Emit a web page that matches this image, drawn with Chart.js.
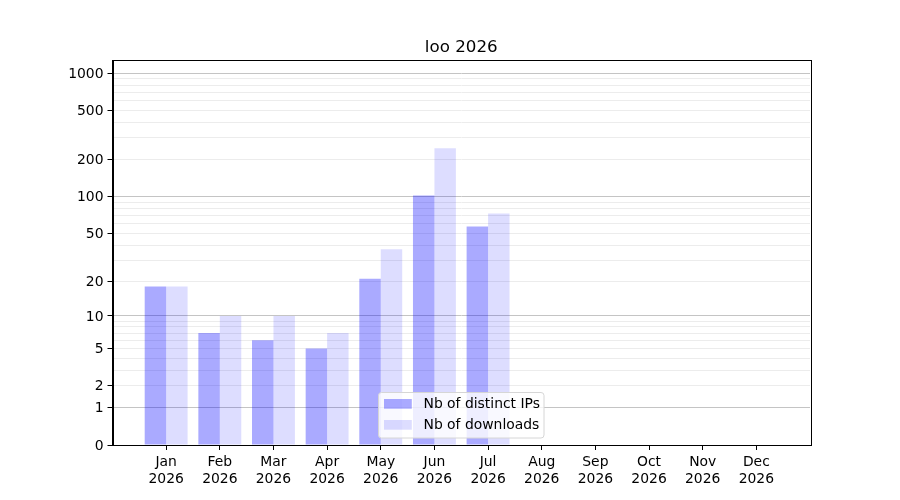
<!DOCTYPE html>
<html>
<head>
<meta charset="utf-8">
<script src="https://cdn.jsdelivr.net/npm/chart.js@4.4.1/dist/chart.umd.min.js"></script>
<style>
  html, body { margin: 0; padding: 0; background: #fff; }
  #wrap { width: 900px; height: 500px; position: relative; }
</style>
</head>
<body>
<div id="wrap"><canvas id="chart"></canvas></div>
<script>
// ---- data ----
const months = ['Jan', 'Feb', 'Mar', 'Apr', 'May', 'Jun', 'Jul', 'Aug', 'Sep', 'Oct', 'Nov', 'Dec'];
const year = '2026';
const distinctIPs = [18, 7, 6, 5, 21, 102, 57, 0, 0, 0, 0, 0];
const downloads = [18, 10, 10, 7, 37, 247, 73, 0, 0, 0, 0, 0];
const yLabelled = [0, 1, 2, 5, 10, 20, 50, 100, 200, 500, 1000];
const yMajor = [1, 10, 100, 1000];
const yGrid = [0, 1, 2, 3, 4, 5, 6, 7, 8, 9, 10, 20, 30, 40, 50, 60, 70, 80, 90,
  100, 200, 300, 400, 500, 600, 700, 800, 900, 1000];

// y axis is log10(1 + value)
const toY = v => Math.log10(1 + v);
const FONT = "'DejaVu Sans', sans-serif";

const framePlugin = {
  id: 'frame',
  afterDraw(chart) {
    const { ctx, chartArea: a } = chart;
    ctx.save();
    ctx.strokeStyle = '#000';
    ctx.lineWidth = 1;
    ctx.strokeRect(Math.round(a.left) + 0.5, Math.round(a.top) + 0.5,
      Math.round(a.right - a.left), Math.round(a.bottom - a.top));
    // title
    ctx.fillStyle = '#000';
    ctx.font = '16.7px ' + FONT;
    ctx.textAlign = 'center';
    ctx.textBaseline = 'alphabetic';
    ctx.fillText('loo ' + year, (a.left + a.right) / 2, a.top - 8.3);
    ctx.restore();
  }
};

const legendPlugin = {
  id: 'boxLegend',
  afterDraw(chart) {
    const { ctx } = chart;
    const x = 378.5, y = 392.5, w = 165.5, h = 45.5, r = 3;
    ctx.save();
    ctx.beginPath();
    ctx.roundRect(x, y, w, h, r);
    ctx.fillStyle = 'rgba(255,255,255,0.8)';
    ctx.fill();
    ctx.strokeStyle = '#d6d6d6';
    ctx.lineWidth = 1;
    ctx.stroke();
    ctx.font = '13.9px ' + FONT;
    ctx.textBaseline = 'middle';
    ctx.textAlign = 'left';
    chart.data.datasets.forEach((ds, i) => {
      const sy = 399 + i * 21;
      ctx.fillStyle = ds.backgroundColor;
      ctx.fillRect(384, sy, 27.8, 9.7);
      ctx.fillStyle = '#000';
      ctx.fillText(ds.label, 423.5, sy + 5);
    });
    ctx.restore();
  }
};

new Chart(document.getElementById('chart'), {
  type: 'bar',
  data: {
    datasets: [
      {
        label: 'Nb of distinct IPs',
        data: distinctIPs.map((v, i) => ({ x: i, y: toY(v) })),
        backgroundColor: 'rgba(0,0,255,0.333)',
        borderWidth: 0,
        categoryPercentage: 0.8,
        barPercentage: 1.0
      },
      {
        label: 'Nb of downloads',
        data: downloads.map((v, i) => ({ x: i, y: toY(v) })),
        backgroundColor: 'rgba(0,0,255,0.133)',
        borderWidth: 0,
        categoryPercentage: 0.8,
        barPercentage: 1.0
      }
    ]
  },
  options: {
    responsive: true,
    maintainAspectRatio: false,
    animation: false,
    layout: { padding: { left: 0, right: 90, top: 60, bottom: 0 } },
    plugins: {
      legend: { display: false },
      tooltip: { enabled: false },
      title: { display: false }
    },
    scales: {
      x: {
        type: 'linear',
        min: -1,
        max: 12,
        offset: false,
        afterBuildTicks: scale => {
          scale.ticks = months.map((m, i) => ({ value: i }));
        },
        afterFit: scale => { scale.height = 55; },
        grid: {
          offset: false,
          drawOnChartArea: false,
          drawTicks: true,
          tickLength: 5,
          tickColor: '#000',
          tickWidth: 1
        },
        border: { display: true, color: '#000', width: 1 },
        ticks: {
          autoSkip: false,
          maxRotation: 0,
          padding: 4,
          color: '#000',
          font: { family: FONT, size: 13.9, lineHeight: 1.2 },
          callback: v => [months[v], year]
        }
      },
      y: {
        type: 'linear',
        min: 0,
        max: 3.107,
        afterBuildTicks: scale => {
          scale.ticks = yGrid.map(v => ({ value: toY(v) }));
        },
        afterFit: scale => { scale.width = 112.5; },
        grid: {
          drawTicks: true,
          tickLength: 5,
          lineWidth: 1,
          color: c => {
            const raw = yGrid[c.index];
            if (raw === 0) return 'rgba(0,0,0,0)';
            return yMajor.includes(raw) ? '#c4c4c4' : '#ececec';
          },
          tickColor: c => yLabelled.includes(yGrid[c.index]) ? '#000' : 'rgba(0,0,0,0)',
          tickWidth: 1
        },
        border: { display: true, color: '#000', width: 1 },
        ticks: {
          autoSkip: false,
          padding: 4,
          labelOffset: 1,
          color: '#000',
          font: { family: FONT, size: 13.9 },
          callback: (v, i) => yLabelled.includes(yGrid[i]) ? String(yGrid[i]) : ''
        }
      }
    }
  },
  plugins: [framePlugin, legendPlugin]
});
</script>
</body>
</html>
